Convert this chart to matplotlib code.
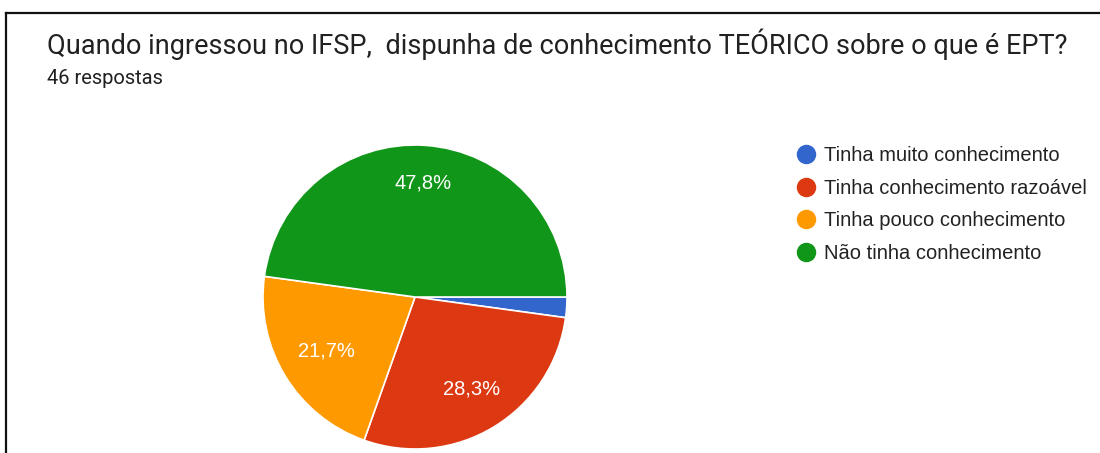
import numpy as np
import matplotlib
matplotlib.use("Agg")
import matplotlib.pyplot as plt
from matplotlib.lines import Line2D

title = "Quando ingressou no IFSP,  dispunha de conhecimento TEÓRICO sobre o que é EPT?"
subtitle = "46 respostas"
categories = ["Tinha muito conhecimento", "Tinha conhecimento razoável",
              "Tinha pouco conhecimento", "Não tinha conhecimento"]
counts = [1, 13, 10, 22]
colors = ["#3366cc", "#dc3912", "#ff9900", "#109618"]
label_radius = [0.70, 0.71, 0.68, 0.755]

W, H = 1100, 453
fig = plt.figure(figsize=(W / 100, H / 100), dpi=100)

# frame lines (left + top), like the cropped screenshot
fig.add_artist(Line2D([5.5 / W, 5.5 / W], [0, 1 - 12.5 / H], transform=fig.transFigure,
                      color="#111111", lw=1.6))
fig.add_artist(Line2D([5.5 / W, 1], [1 - 12.5 / H, 1 - 12.5 / H], transform=fig.transFigure,
                      color="#111111", lw=1.6))

fig.text(47 / W, 1 - 44 / H, title, fontsize=19.5, family="Roboto", color="#212121",
         va="center", ha="left")
fig.text(47 / W, 1 - 78 / H, subtitle, fontsize=14.5, family="Roboto", color="#212121",
         va="center", ha="left")

cx, cy, r = 415, 297, 152
ax = fig.add_axes([(cx - r) / W, (H - cy - r) / H, 2 * r / W, 2 * r / H])
wedges, _ = ax.pie(counts, colors=colors, startangle=0, counterclock=False,
                   radius=1, wedgeprops=dict(edgecolor="white", linewidth=1.2))
ax.set_xlim(-1, 1)
ax.set_ylim(-1, 1)
ax.set_aspect("equal")
ax.axis("off")

total = sum(counts)
for w, c, lr in zip(wedges, counts, label_radius):
    pct = 100 * c / total
    if pct < 5:
        continue
    mid = np.deg2rad((w.theta1 + w.theta2) / 2)
    ax.text(lr * np.cos(mid), lr * np.sin(mid), f"{pct:.1f}%".replace(".", ","),
            ha="center", va="center", color="white", fontsize=14.5,
            family="Liberation Sans")

handles = [Line2D([], [], marker="o", linestyle="", markersize=13,
                  markerfacecolor=col, markeredgecolor=col) for col in colors]
fig.legend(handles, categories, loc="upper left", bbox_to_anchor=(788 / W, 1 - 136 / H),
           frameon=False, prop=dict(family="Liberation Sans", size=14.5),
           handlelength=0.8, handletextpad=0.5, labelspacing=0.67, borderpad=0,
           labelcolor="#222222")

fig.savefig("out.png", dpi=100, facecolor="white")
